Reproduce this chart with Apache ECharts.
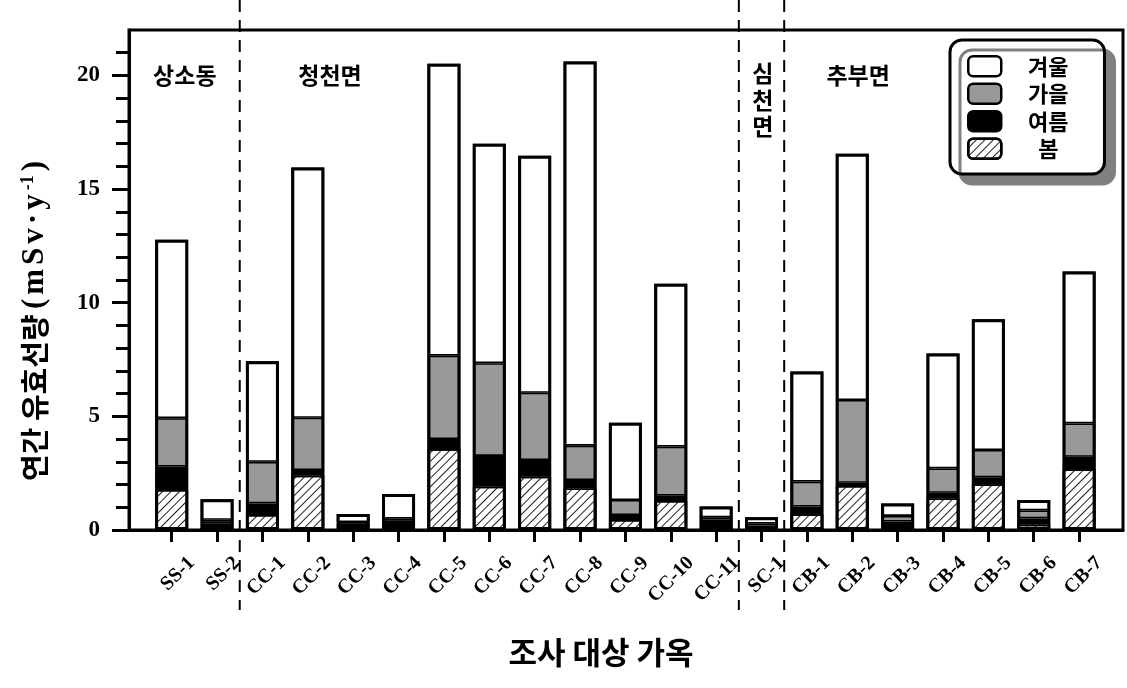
<!DOCTYPE html>
<html><head><meta charset="utf-8">
<script src="https://cdn.jsdelivr.net/npm/echarts@6/dist/echarts.min.js"></script>
<style>html,body{margin:0;padding:0;background:#fff}#c{width:1127px;height:688px}</style>
</head><body><div id="c"></div>
<script>
// ---- data ----
const categories = ['SS-1','SS-2','CC-1','CC-2','CC-3','CC-4','CC-5','CC-6','CC-7','CC-8','CC-9','CC-10','CC-11','SC-1','CB-1','CB-2','CB-3','CB-4','CB-5','CB-6','CB-7'];
const spring = [1.76, 0.10, 0.66, 2.39, 0.05, 0.10, 3.56, 1.91, 2.35, 1.83, 0.44, 1.28, 0.10, 0.08, 0.69, 1.94, 0.10, 1.39, 2.01, 0.24, 2.67];
const summer = [1.03, 0.20, 0.51, 0.25, 0.25, 0.25, 0.44, 1.35, 0.73, 0.37, 0.22, 0.23, 0.36, 0.12, 0.34, 0.14, 0.27, 0.25, 0.31, 0.27, 0.55];
const autumn = [2.13, 0.15, 1.83, 2.30, 0.05, 0.15, 3.67, 4.08, 2.96, 1.51, 0.66, 2.16, 0.10, 0.08, 1.10, 3.64, 0.25, 1.07, 1.20, 0.35, 1.47];
const winter = [7.85, 0.90, 4.43, 11.01, 0.35, 1.08, 12.85, 9.65, 10.43, 16.90, 3.40, 7.16, 0.47, 0.28, 4.84, 10.83, 0.55, 5.06, 5.75, 0.46, 6.68];
const seasonNames = ['봄', '여름', '가을', '겨울'];
const legendOrder = ['겨울', '가을', '여름', '봄'];
const yTicks = [0, 5, 10, 15, 20];
const yMinorTicks = [1,2,3,4,6,7,8,9,11,12,13,14,16,17,18,19,21];
const groupLabels = ['상소동', '청천면', '심천면', '추부면'];
const groupLabelPos = [0.29, 3.49, 13.03, 15.13];
const dividers = [1.5, 12.5, 13.5];

// ---- chart ----
const serif = "'Liberation Serif', 'Times New Roman', serif";
const kr = "'Noto Sans CJK KR', 'Noto Sans', sans-serif";
const idx = categories.map((_, i) => i);
const totals = idx.map(i => +(spring[i] + summer[i] + autumn[i] + winter[i]).toFixed(2));
const LABEL_SHIFT = 0.44;
const BAR_W = 33;
const chart = echarts.init(document.getElementById('c'), null, {renderer: 'canvas'});

const hatch = {symbol: 'rect', symbolSize: 1, dashArrayX: [1, 0], dashArrayY: [1, 4.6], rotation: -Math.PI / 4, color: '#222'};

function mk(name, arr, style) {
  return {
    name, type: 'bar', stack: 'total', barWidth: BAR_W, barGap: '-100%',
    xAxisIndex: 1, yAxisIndex: 2,
    data: arr,
    itemStyle: Object.assign({borderColor: '#000', borderWidth: 1.6}, style),
    emphasis: {disabled: true}
  };
}

const s = {fontFamily: serif, fontWeight: 'bold', fontSize: 31, color: '#000', padding: [0, 2]};
const option = {
  animation: false,
  grid: [
    {left: 129, right: 4, top: 30, bottom: 158, show: true, borderColor: '#000', borderWidth: 3, backgroundColor: 'transparent', outerBoundsMode: 'none'},
    {left: 149, right: 25.2, top: 30, bottom: 158, outerBoundsMode: 'none'}
  ],
  legend: {
    data: legendOrder.map(n => n === '봄' ? {name: n, itemStyle: {decal: hatch}} : {name: n}),
    orient: 'vertical', left: 950, top: 40,
    padding: [15, 36, 14, 17], itemWidth: 33, itemHeight: 20, itemGap: 5,
    backgroundColor: '#fff', borderColor: '#000', borderWidth: 3, borderRadius: 12,
    shadowColor: '#808080', shadowOffsetX: 10, shadowOffsetY: 10, shadowBlur: 0,
    icon: 'roundRect', selectedMode: false,
    itemStyle: {borderWidth: 2.5, borderColor: '#000'},
    formatter: n => '{c|' + n + '}',
    textStyle: {rich: {c: {fontFamily: kr, fontWeight: 'bold', fontSize: 22, color: '#000', width: 84, align: 'center'}}}
  },
  xAxis: [{
    gridIndex: 0, type: 'value', min: 0, max: 1,
    splitLine: {show: false}, axisTick: {show: false}, axisLabel: {show: false},
    axisLine: {onZero: false, lineStyle: {color: '#000', width: 3}},
    name: '조사 대상 가옥', nameLocation: 'middle', nameGap: 107,
    nameTextStyle: {fontFamily: kr, fontWeight: 'bold', fontSize: 31, color: '#000', padding: [0, 50, 0, 0]}
  }, {
    gridIndex: 1, type: 'category', data: categories,
    axisLine: {show: false}, axisTick: {show: false}, axisLabel: {show: false}, splitLine: {show: false}
  }, {
    gridIndex: 1, type: 'value', min: -0.5, max: 20.5, position: 'bottom',
    splitLine: {show: false},
    axisLine: {show: false, onZero: false},
    axisTick: {customValues: idx, length: 12, lineStyle: {color: '#000', width: 3}},
    axisLabel: {
      customValues: idx.map(i => i + LABEL_SHIFT), rotate: 45, margin: 30,
      formatter: v => categories[Math.round(v - LABEL_SHIFT)] || '',
      fontFamily: serif, fontWeight: 'bold', fontSize: 20, color: '#000', hideOverlap: false
    }
  }],
  yAxis: [{
    gridIndex: 0, type: 'value', min: 0, max: 22, position: 'left',
    splitLine: {show: false},
    axisLine: {show: true, onZero: false, lineStyle: {color: '#000', width: 3}},
    axisTick: {customValues: yTicks, length: 17, lineStyle: {color: '#000', width: 3}},
    axisLabel: {customValues: yTicks, margin: 29, fontFamily: serif, fontWeight: 'bold', fontSize: 23, color: '#000'},
    name: '{k|연간 유효선량} {s|(}{s|m}{s|S}{s|v}{s|·}{s|y}{sup|-1}{s|)}',
    nameLocation: 'middle', nameRotate: 90, nameGap: 79,
    nameTextStyle: {
      padding: [0, 80, 0, 0],
      rich: {
        k: {fontFamily: kr, fontWeight: 'bold', fontSize: 29, color: '#000'},
        s: s,
        sup: {fontFamily: serif, fontWeight: 'bold', fontSize: 18, color: '#000', verticalAlign: 'top', padding: [0, 2]}
      }
    }
  }, {
    gridIndex: 0, type: 'value', min: 0, max: 22, position: 'left', offset: 0,
    splitLine: {show: false},
    axisLine: {show: false, onZero: false},
    axisTick: {customValues: yMinorTicks, length: 13, lineStyle: {color: '#000', width: 3}},
    axisLabel: {show: false}
  }, {
    gridIndex: 1, type: 'value', min: 0, max: 22, show: false
  }],
  series: [
    mk(seasonNames[0], spring, {color: '#fff', decal: hatch}),
    mk(seasonNames[1], summer, {color: '#000'}),
    mk(seasonNames[2], autumn, {color: '#999999'}),
    mk(seasonNames[3], winter, {color: '#fff'}),
    {
      name: 'outline', type: 'bar', barWidth: BAR_W, barGap: '-100%', xAxisIndex: 1, yAxisIndex: 2,
      data: totals, silent: true, z: 3,
      itemStyle: {color: 'rgba(0,0,0,0)', borderColor: '#000', borderWidth: 3},
      emphasis: {disabled: true}
    }
  ]
};
chart.setOption(option);

const g = [];
dividers.forEach(d => {
  const x = chart.convertToPixel({xAxisIndex: 2}, d);
  g.push({type: 'line', silent: true, shape: {x1: x, y1: 0, x2: x, y2: 610}, style: {stroke: '#000', lineWidth: 2, lineDash: [12, 8]}, z: 5});
});
groupLabels.forEach((t, k) => {
  const vertical = k === 2;
  const p = chart.convertToPixel({xAxisIndex: 2, yAxisIndex: 2}, [groupLabelPos[k], vertical ? 18.93 : 20.03]);
  g.push({type: 'text', silent: true, x: p[0], y: p[1], z: 6, style: {
    text: vertical ? t.split('').join('\n') : t,
    fontFamily: kr, fontWeight: 'bold', fontSize: 23, lineHeight: 26.5,
    align: 'center', verticalAlign: 'middle', fill: '#000'
  }});
});
chart.setOption({graphic: g});
</script></body></html>
